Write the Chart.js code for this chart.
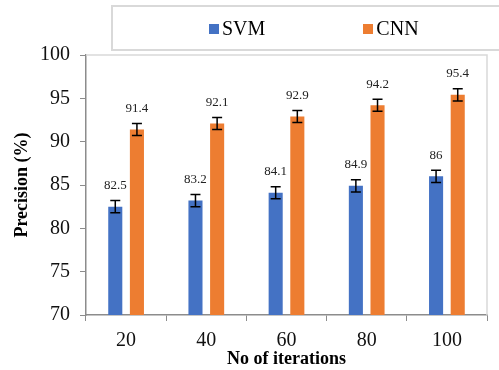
<!DOCTYPE html>
<html>
<head>
<meta charset="utf-8">
<script src="https://cdn.jsdelivr.net/npm/chart.js@4/dist/chart.umd.min.js"></script>
<style>
  html, body { margin: 0; padding: 0; background: #fff; overflow: hidden; }
  #wrap { position: relative; width: 499px; height: 370px; overflow: hidden; }
  #chart { position: absolute; left: 0; top: 0; }
  #legend {
    position: absolute; left: 111px; top: 5px; width: 420px; height: 42px;
    border: 2px solid #d9d9d9; box-sizing: content-box;
    font-family: 'Liberation Serif', 'Times New Roman', serif; font-size: 20px; color: #000;
  }
  #legend .items { position: absolute; left: 96px; top: 0; height: 42px; display: flex; align-items: center; gap: 98px; }
  #legend .item { display: flex; align-items: center; gap: 3px; line-height: 1; }
  #legend .sw { width: 10px; height: 10px; display: inline-block; margin-top: 1px; }
</style>
</head>
<body>
<div id="wrap">
  <canvas id="chart" width="499" height="370"></canvas>
  <div id="legend"><div class="items"></div></div>
</div>
<script>
// ---- data ----
const categories = ['20', '40', '60', '80', '100'];
const svmValues = [82.5, 83.2, 84.1, 84.9, 86];
const cnnValues = [91.4, 92.1, 92.9, 94.2, 95.4];
const svmErrors = [0.7, 0.7, 0.7, 0.7, 0.7];
const cnnErrors = [0.7, 0.7, 0.7, 0.7, 0.7];
const seriesNames = ['SVM', 'CNN'];
const yTicks = [70, 75, 80, 85, 90, 95, 100];

const SERIF = "'Liberation Serif', 'Times New Roman', serif";

const errorBarsAndLabels = {
  id: 'errorBarsAndLabels',
  afterDatasetsDraw(chart) {
    const ctx = chart.ctx;
    const y = chart.scales.y;
    chart.data.datasets.forEach((ds, di) => {
      const meta = chart.getDatasetMeta(di);
      meta.data.forEach((bar, i) => {
        const v = ds.data[i];
        const e = ds.errors[i];
        const yTop = y.getPixelForValue(v + e);
        const yBot = y.getPixelForValue(v - e);
        const x = bar.x;
        ctx.save();
        ctx.strokeStyle = '#000';
        ctx.lineWidth = 1.5;
        ctx.beginPath();
        ctx.moveTo(x, yTop); ctx.lineTo(x, yBot);
        ctx.moveTo(x - 5, yTop); ctx.lineTo(x + 5, yTop);
        ctx.moveTo(x - 5, yBot); ctx.lineTo(x + 5, yBot);
        ctx.stroke();
        ctx.fillStyle = '#222';
        ctx.font = '13px ' + SERIF;
        ctx.textAlign = 'center';
        ctx.textBaseline = 'middle';
        ctx.fillText(String(v), x, y.getPixelForValue(v) - 21);
        ctx.restore();
      });
    });
  }
};

const plotFrame = {
  id: 'plotFrame',
  beforeDatasetsDraw(chart) {
    const {ctx, chartArea: a} = chart;
    ctx.save();
    ctx.strokeStyle = '#d9d9d9';
    ctx.lineWidth = 1.5;
    ctx.beginPath();
    ctx.moveTo(a.left, a.top); ctx.lineTo(a.right, a.top); ctx.lineTo(a.right, a.bottom);
    ctx.stroke();
    ctx.restore();
  }
};

const chart = new Chart(document.getElementById('chart'), {
  type: 'bar',
  data: {
    labels: categories,
    datasets: [
      { label: seriesNames[0], data: svmValues, errors: svmErrors, backgroundColor: '#4472C4' },
      { label: seriesNames[1], data: cnnValues, errors: cnnErrors, backgroundColor: '#ED7D31' }
    ]
  },
  options: {
    responsive: false,
    animation: false,
    layout: { padding: { top: 55, right: 12, left: 0, bottom: 0 } },
    datasets: { bar: { categoryPercentage: 0.54, barPercentage: 0.65 } },
    plugins: { legend: { display: false }, tooltip: { enabled: false } },
    scales: {
      x: {
        grid: { offset: true, drawOnChartArea: false, drawTicks: true, tickLength: 6, color: '#8c8c8c' },
        border: { color: '#8c8c8c', width: 1.5 },
        ticks: { font: { family: SERIF, size: 20 }, color: '#111', padding: 8 },
        title: { display: true, text: 'No of iterations', font: { family: SERIF, size: 18, weight: 'bold' }, color: '#000', padding: { top: 0, bottom: 0 } },
        afterFit(s) { s.height = 55; }
      },
      y: {
        min: 70, max: 100,
        afterBuildTicks(s) { s.ticks = yTicks.map(v => ({ value: v })); },
        grid: { drawOnChartArea: false, drawTicks: true, tickLength: 6, color: '#8c8c8c' },
        border: { color: '#8c8c8c', width: 1.5 },
        ticks: { font: { family: SERIF, size: 20 }, color: '#111', padding: 10 },
        title: { display: true, text: 'Precision (%)', font: { family: SERIF, size: 18, weight: 'bold' }, color: '#000', padding: { top: 12, bottom: 0 } },
        afterFit(s) { s.width = 86; }
      }
    }
  },
  plugins: [plotFrame, errorBarsAndLabels]
});

// HTML legend generated from the chart's datasets
const items = document.querySelector('#legend .items');
chart.data.datasets.forEach(ds => {
  const it = document.createElement('div');
  it.className = 'item';
  const sw = document.createElement('span');
  sw.className = 'sw';
  sw.style.background = ds.backgroundColor;
  const tx = document.createElement('span');
  tx.textContent = ds.label;
  it.appendChild(sw); it.appendChild(tx);
  items.appendChild(it);
});
</script>
</body>
</html>
